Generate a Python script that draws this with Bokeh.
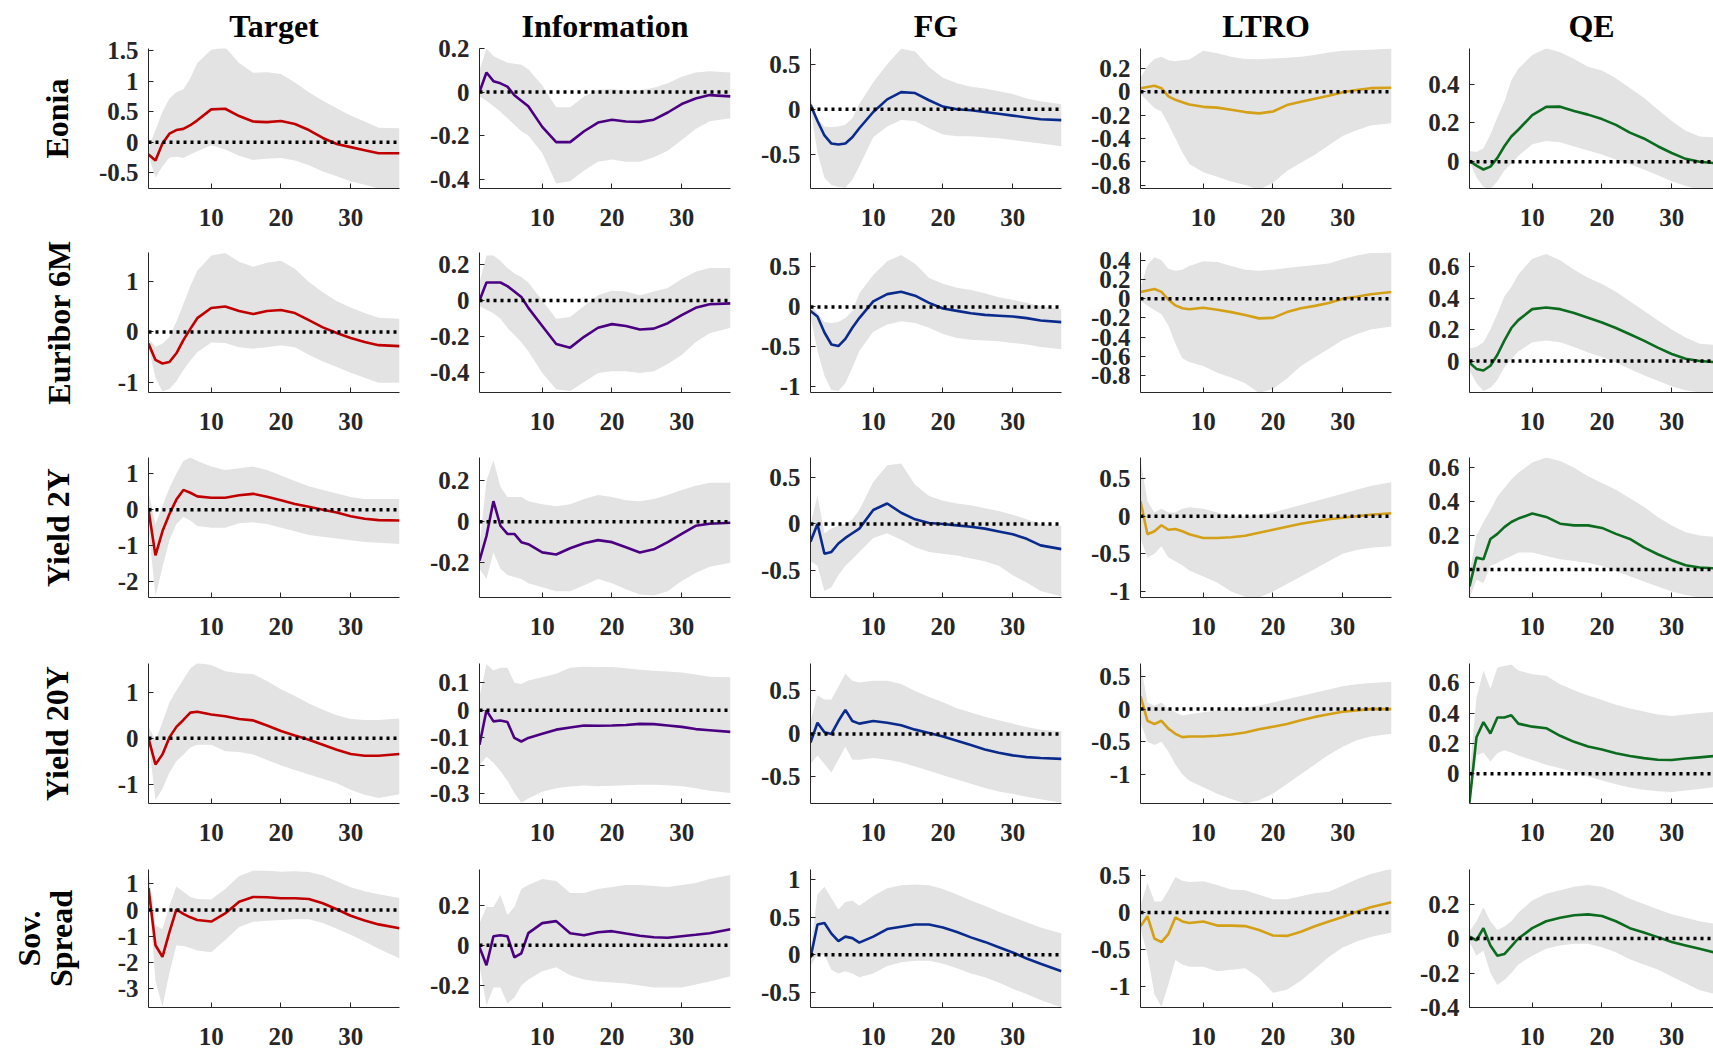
from bokeh.plotting import figure
from bokeh.models import Range1d, FixedTicker, Span
from bokeh.layouts import column, row
from bokeh.embed import file_html
from bokeh.resources import INLINE

# ---------------- data ----------------
H = [1, 2, 3, 4, 5, 6, 7, 8, 10, 12, 14, 16, 18, 20, 22, 24, 26, 28, 30, 32, 34, 37]

shocks = ["Target", "Information", "FG", "LTRO", "QE"]
row_labels = ["Eonia", "Euribor 6M", "Yield 2Y", "Yield 20Y", "Sov.\nSpread"]
xticks = [10, 20, 30]

# Row 1: Eonia
eonia_target_mean = [-0.20, -0.30, -0.02, 0.14, 0.20, 0.22, 0.28, 0.36, 0.54, 0.55, 0.43, 0.34, 0.33, 0.35, 0.30, 0.20, 0.07, -0.03, -0.08, -0.13, -0.18, -0.18]
eonia_target_hi = [-0.10, 0.20, 0.50, 0.72, 0.82, 0.87, 1.05, 1.30, 1.52, 1.56, 1.30, 1.14, 1.15, 1.12, 0.98, 0.82, 0.68, 0.56, 0.44, 0.34, 0.24, 0.23]
eonia_target_lo = [-0.22, -0.58, -0.40, -0.25, -0.24, -0.26, -0.20, -0.15, -0.05, -0.12, -0.22, -0.29, -0.27, -0.26, -0.30, -0.38, -0.48, -0.56, -0.64, -0.70, -0.76, -0.80]
eonia_info_mean = [0.0, 0.09, 0.05, 0.04, 0.025, -0.015, -0.04, -0.065, -0.16, -0.23, -0.23, -0.18, -0.14, -0.127, -0.135, -0.137, -0.127, -0.094, -0.055, -0.03, -0.014, -0.02]
eonia_info_hi = [0.10, 0.20, 0.165, 0.15, 0.135, 0.13, 0.125, 0.105, 0.03, -0.07, -0.07, -0.02, 0.01, 0.013, 0.006, 0.008, 0.02, 0.04, 0.07, 0.09, 0.095, 0.09]
eonia_info_lo = [-0.02, -0.04, -0.065, -0.09, -0.12, -0.15, -0.18, -0.20, -0.28, -0.42, -0.41, -0.36, -0.32, -0.31, -0.32, -0.32, -0.30, -0.27, -0.22, -0.17, -0.134, -0.12]
eonia_fg_mean = [0.05, -0.13, -0.29, -0.38, -0.39, -0.38, -0.31, -0.21, -0.03, 0.11, 0.19, 0.18, 0.10, 0.03, 0.0, -0.01, -0.03, -0.05, -0.07, -0.09, -0.11, -0.12]
eonia_fg_hi = [0.12, -0.10, -0.19, -0.20, -0.19, -0.17, -0.10, 0.06, 0.30, 0.50, 0.67, 0.64, 0.47, 0.35, 0.29, 0.25, 0.23, 0.20, 0.17, 0.12, 0.09, 0.055]
eonia_fg_lo = [0.02, -0.48, -0.76, -0.84, -0.86, -0.87, -0.78, -0.63, -0.31, -0.19, -0.12, -0.13, -0.21, -0.28, -0.30, -0.30, -0.31, -0.32, -0.34, -0.36, -0.38, -0.41]
eonia_ltro_mean = [0.03, 0.04, 0.05, 0.03, -0.04, -0.07, -0.09, -0.11, -0.13, -0.137, -0.155, -0.175, -0.186, -0.17, -0.115, -0.086, -0.06, -0.035, -0.005, 0.015, 0.03, 0.034]
eonia_ltro_hi = [0.12, 0.22, 0.28, 0.30, 0.27, 0.26, 0.27, 0.275, 0.35, 0.33, 0.30, 0.28, 0.277, 0.285, 0.29, 0.30, 0.315, 0.335, 0.35, 0.355, 0.36, 0.37]
eonia_ltro_lo = [-0.02, -0.08, -0.14, -0.17, -0.28, -0.40, -0.52, -0.62, -0.69, -0.73, -0.77, -0.80, -0.84, -0.78, -0.68, -0.61, -0.54, -0.46, -0.38, -0.33, -0.29, -0.27]
eonia_qe_mean = [0.005, -0.02, -0.04, -0.025, 0.02, 0.08, 0.13, 0.165, 0.24, 0.283, 0.284, 0.262, 0.243, 0.22, 0.19, 0.15, 0.12, 0.08, 0.045, 0.015, 0.0, -0.01]
eonia_qe_hi = [0.055, 0.05, 0.07, 0.14, 0.23, 0.31, 0.42, 0.48, 0.55, 0.585, 0.565, 0.53, 0.49, 0.47, 0.43, 0.38, 0.33, 0.27, 0.21, 0.16, 0.13, 0.125]
eonia_qe_lo = [0.0, -0.08, -0.13, -0.14, -0.10, -0.045, -0.01, 0.03, 0.09, 0.107, 0.10, 0.078, 0.058, 0.037, 0.012, -0.012, -0.04, -0.07, -0.10, -0.125, -0.145, -0.16]

# Row 2: Euribor 6M
euribor_target_mean = [-0.23, -0.55, -0.62, -0.59, -0.42, -0.16, 0.06, 0.27, 0.47, 0.50, 0.41, 0.35, 0.41, 0.43, 0.37, 0.23, 0.09, -0.02, -0.12, -0.20, -0.26, -0.28]
euribor_target_hi = [-0.13, -0.29, -0.23, -0.10, 0.20, 0.55, 0.90, 1.20, 1.50, 1.55, 1.38, 1.28, 1.36, 1.40, 1.24, 0.98, 0.78, 0.60, 0.48, 0.37, 0.28, 0.26]
euribor_target_lo = [-0.30, -0.90, -1.17, -1.12, -0.97, -0.75, -0.56, -0.40, -0.21, -0.22, -0.30, -0.33, -0.30, -0.26, -0.30, -0.45, -0.58, -0.69, -0.80, -0.90, -1.00, -1.00]
euribor_info_mean = [0.0, 0.10, 0.10, 0.10, 0.08, 0.05, 0.02, -0.04, -0.14, -0.24, -0.26, -0.20, -0.15, -0.13, -0.14, -0.16, -0.155, -0.125, -0.08, -0.04, -0.02, -0.015]
euribor_info_hi = [0.10, 0.25, 0.25, 0.22, 0.18, 0.15, 0.13, 0.10, 0.0, -0.10, -0.09, -0.03, 0.03, 0.055, 0.05, 0.03, 0.05, 0.07, 0.12, 0.16, 0.18, 0.18]
euribor_info_lo = [-0.03, -0.05, -0.07, -0.10, -0.15, -0.19, -0.23, -0.28, -0.40, -0.49, -0.50, -0.45, -0.40, -0.39, -0.39, -0.40, -0.39, -0.35, -0.30, -0.23, -0.18, -0.15]
euribor_fg_mean = [-0.05, -0.12, -0.32, -0.47, -0.49, -0.40, -0.26, -0.14, 0.07, 0.16, 0.19, 0.14, 0.05, -0.02, -0.05, -0.08, -0.10, -0.11, -0.12, -0.14, -0.17, -0.19]
euribor_fg_hi = [0.05, -0.08, -0.19, -0.20, -0.19, -0.14, -0.05, 0.17, 0.40, 0.57, 0.65, 0.54, 0.36, 0.29, 0.24, 0.21, 0.17, 0.12, 0.09, 0.05, 0.01, -0.03]
euribor_fg_lo = [-0.12, -0.55, -0.86, -1.04, -1.05, -0.95, -0.76, -0.55, -0.31, -0.22, -0.18, -0.20, -0.26, -0.34, -0.39, -0.41, -0.42, -0.43, -0.45, -0.47, -0.50, -0.53]
euribor_ltro_mean = [0.07, 0.085, 0.10, 0.07, -0.01, -0.07, -0.10, -0.11, -0.095, -0.115, -0.14, -0.17, -0.205, -0.20, -0.14, -0.10, -0.075, -0.045, 0.0, 0.02, 0.045, 0.07]
euribor_ltro_hi = [0.12, 0.35, 0.43, 0.40, 0.31, 0.29, 0.30, 0.34, 0.39, 0.38, 0.34, 0.30, 0.29, 0.30, 0.32, 0.335, 0.35, 0.365, 0.41, 0.45, 0.475, 0.48]
euribor_ltro_lo = [-0.02, -0.07, -0.12, -0.16, -0.28, -0.47, -0.62, -0.66, -0.70, -0.77, -0.82, -0.88, -0.98, -0.94, -0.83, -0.70, -0.61, -0.52, -0.43, -0.37, -0.32, -0.29]
euribor_qe_mean = [-0.01, -0.05, -0.06, -0.03, 0.04, 0.13, 0.21, 0.26, 0.33, 0.34, 0.33, 0.305, 0.275, 0.245, 0.21, 0.17, 0.13, 0.085, 0.045, 0.015, 0.0, -0.01]
euribor_qe_hi = [0.08, 0.09, 0.12, 0.20, 0.30, 0.41, 0.47, 0.55, 0.65, 0.68, 0.64, 0.58, 0.53, 0.49, 0.44, 0.38, 0.32, 0.26, 0.20, 0.15, 0.11, 0.10]
euribor_qe_lo = [-0.06, -0.14, -0.19, -0.17, -0.12, -0.04, 0.01, 0.06, 0.12, 0.13, 0.12, 0.09, 0.055, 0.025, -0.01, -0.05, -0.09, -0.125, -0.16, -0.185, -0.20, -0.22]

# Row 3: Yield 2Y
y2_target_mean = [0.0, -1.27, -0.60, -0.12, 0.28, 0.55, 0.47, 0.37, 0.33, 0.33, 0.40, 0.44, 0.36, 0.26, 0.16, 0.08, 0.0, -0.08, -0.18, -0.25, -0.29, -0.30]
y2_target_hi = [0.50, -0.40, 0.10, 0.60, 1.00, 1.35, 1.45, 1.35, 1.20, 1.10, 1.15, 1.20, 1.10, 0.95, 0.80, 0.65, 0.55, 0.45, 0.35, 0.30, 0.30, 0.30]
y2_target_lo = [-0.50, -2.40, -1.60, -0.85, -0.40, -0.20, -0.30, -0.45, -0.50, -0.50, -0.38, -0.35, -0.40, -0.50, -0.60, -0.70, -0.75, -0.80, -0.85, -0.90, -0.92, -0.95]
y2_info_mean = [-0.19, -0.07, 0.10, -0.02, -0.06, -0.06, -0.10, -0.11, -0.15, -0.16, -0.13, -0.105, -0.09, -0.10, -0.125, -0.15, -0.135, -0.10, -0.06, -0.02, -0.01, -0.005]
y2_info_hi = [-0.12, 0.20, 0.30, 0.17, 0.12, 0.12, 0.12, 0.10, 0.085, 0.075, 0.085, 0.11, 0.13, 0.12, 0.105, 0.10, 0.11, 0.13, 0.155, 0.175, 0.19, 0.19]
y2_info_lo = [-0.23, -0.28, -0.15, -0.23, -0.26, -0.27, -0.28, -0.30, -0.32, -0.34, -0.34, -0.31, -0.28, -0.30, -0.33, -0.355, -0.36, -0.34, -0.29, -0.25, -0.22, -0.20]
y2_fg_mean = [-0.19, 0.0, -0.32, -0.30, -0.21, -0.15, -0.10, -0.05, 0.15, 0.22, 0.12, 0.05, 0.01, 0.0, -0.015, -0.03, -0.05, -0.08, -0.11, -0.16, -0.23, -0.27]
y2_fg_hi = [0.0, 0.30, -0.10, -0.05, -0.02, 0.0, 0.05, 0.15, 0.45, 0.63, 0.65, 0.42, 0.30, 0.25, 0.22, 0.20, 0.17, 0.14, 0.10, 0.05, 0.0, -0.02]
y2_fg_lo = [-0.40, -0.45, -0.72, -0.68, -0.55, -0.45, -0.38, -0.30, -0.15, -0.10, -0.17, -0.25, -0.30, -0.32, -0.34, -0.37, -0.40, -0.45, -0.55, -0.63, -0.72, -0.78]
y2_ltro_mean = [0.20, -0.24, -0.20, -0.12, -0.18, -0.17, -0.20, -0.24, -0.29, -0.29, -0.28, -0.26, -0.22, -0.18, -0.14, -0.10, -0.07, -0.04, -0.02, 0.0, 0.02, 0.04]
y2_ltro_hi = [0.75, 0.20, 0.05, 0.10, 0.05, 0.05, 0.10, 0.12, 0.10, 0.05, 0.0, 0.0, 0.02, 0.05, 0.10, 0.15, 0.20, 0.25, 0.30, 0.35, 0.40, 0.45]
y2_ltro_lo = [-0.30, -0.55, -0.50, -0.40, -0.55, -0.60, -0.65, -0.72, -0.80, -0.88, -1.00, -1.07, -1.08, -1.00, -0.90, -0.80, -0.70, -0.60, -0.50, -0.45, -0.42, -0.40]
y2_qe_mean = [-0.10, 0.07, 0.06, 0.18, 0.21, 0.25, 0.28, 0.30, 0.33, 0.31, 0.27, 0.26, 0.26, 0.245, 0.21, 0.18, 0.13, 0.09, 0.055, 0.025, 0.012, 0.005]
y2_qe_hi = [-0.02, 0.20, 0.28, 0.35, 0.43, 0.48, 0.53, 0.57, 0.63, 0.66, 0.64, 0.60, 0.55, 0.51, 0.47, 0.42, 0.37, 0.31, 0.26, 0.22, 0.20, 0.19]
y2_qe_lo = [-0.17, -0.06, -0.08, 0.02, 0.04, 0.06, 0.08, 0.10, 0.10, 0.08, 0.06, 0.05, 0.04, 0.02, -0.01, -0.04, -0.07, -0.10, -0.13, -0.15, -0.165, -0.17]

# Row 4: Yield 20Y
y20_target_mean = [0.0, -0.57, -0.35, 0.02, 0.25, 0.40, 0.56, 0.58, 0.52, 0.48, 0.42, 0.39, 0.28, 0.16, 0.06, -0.03, -0.14, -0.25, -0.34, -0.38, -0.38, -0.34]
y20_target_hi = [0.25, -0.04, 0.35, 0.78, 1.04, 1.28, 1.52, 1.64, 1.60, 1.46, 1.42, 1.40, 1.25, 1.07, 0.92, 0.76, 0.62, 0.50, 0.42, 0.40, 0.40, 0.43]
y20_target_lo = [-0.04, -1.35, -1.10, -0.75, -0.50, -0.36, -0.20, -0.14, -0.14, -0.28, -0.30, -0.35, -0.47, -0.59, -0.69, -0.79, -0.88, -0.98, -1.12, -1.23, -1.30, -1.22]
y20_info_mean = [-0.125, 0.0, -0.04, -0.037, -0.042, -0.10, -0.113, -0.10, -0.085, -0.07, -0.062, -0.055, -0.056, -0.055, -0.053, -0.049, -0.05, -0.055, -0.06, -0.068, -0.072, -0.078]
y20_info_hi = [0.05, 0.168, 0.145, 0.155, 0.155, 0.10, 0.096, 0.108, 0.12, 0.133, 0.155, 0.158, 0.157, 0.157, 0.153, 0.147, 0.144, 0.141, 0.137, 0.13, 0.122, 0.12]
y20_info_lo = [-0.20, -0.168, -0.19, -0.22, -0.255, -0.30, -0.335, -0.32, -0.295, -0.283, -0.276, -0.273, -0.275, -0.274, -0.272, -0.27, -0.27, -0.272, -0.275, -0.283, -0.292, -0.30]
y20_fg_mean = [-0.10, 0.13, 0.02, 0.0, 0.15, 0.28, 0.15, 0.12, 0.15, 0.13, 0.10, 0.05, 0.01, -0.03, -0.08, -0.13, -0.18, -0.22, -0.25, -0.27, -0.28, -0.29]
y20_fg_hi = [0.15, 0.45, 0.40, 0.40, 0.55, 0.70, 0.62, 0.60, 0.62, 0.62, 0.58, 0.50, 0.43, 0.37, 0.30, 0.25, 0.20, 0.16, 0.12, 0.08, 0.05, 0.03]
y20_fg_lo = [-0.35, -0.25, -0.35, -0.45, -0.30, -0.15, -0.30, -0.30, -0.28, -0.30, -0.33, -0.38, -0.43, -0.48, -0.53, -0.58, -0.63, -0.67, -0.70, -0.73, -0.76, -0.80]
y20_ltro_mean = [0.20, -0.18, -0.23, -0.18, -0.30, -0.38, -0.43, -0.42, -0.42, -0.41, -0.39, -0.36, -0.31, -0.27, -0.23, -0.17, -0.12, -0.08, -0.04, -0.02, 0.0, 0.0]
y20_ltro_hi = [0.70, 0.10, 0.05, 0.10, 0.0, -0.05, -0.10, -0.08, -0.05, -0.02, 0.0, 0.02, 0.05, 0.10, 0.15, 0.20, 0.25, 0.30, 0.35, 0.38, 0.40, 0.42]
y20_ltro_lo = [-0.20, -0.50, -0.55, -0.50, -0.65, -0.85, -1.00, -1.10, -1.20, -1.30, -1.38, -1.45, -1.40, -1.30, -1.15, -1.00, -0.85, -0.70, -0.58, -0.48, -0.42, -0.38]
y20_qe_mean = [-0.19, 0.24, 0.34, 0.265, 0.37, 0.37, 0.385, 0.33, 0.31, 0.30, 0.25, 0.21, 0.18, 0.16, 0.135, 0.117, 0.103, 0.092, 0.09, 0.10, 0.108, 0.12]
y20_qe_hi = [0.0, 0.50, 0.68, 0.56, 0.70, 0.71, 0.72, 0.68, 0.656, 0.645, 0.59, 0.55, 0.515, 0.485, 0.455, 0.43, 0.41, 0.39, 0.38, 0.39, 0.40, 0.41]
y20_qe_lo = [-0.196, 0.12, 0.14, 0.08, 0.135, 0.155, 0.14, 0.12, 0.09, 0.06, 0.036, 0.013, -0.018, -0.045, -0.07, -0.09, -0.105, -0.115, -0.12, -0.11, -0.10, -0.083]

# Row 5: Sov. Spread
sov_target_mean = [0.84, -1.35, -1.79, -0.85, 0.02, -0.15, -0.28, -0.38, -0.44, -0.13, 0.32, 0.50, 0.49, 0.45, 0.45, 0.42, 0.26, 0.03, -0.22, -0.40, -0.55, -0.70]
sov_target_hi = [1.55, -0.60, -0.73, 0.15, 0.90, 0.70, 0.50, 0.42, 0.40, 0.80, 1.30, 1.50, 1.50, 1.46, 1.48, 1.45, 1.33, 1.10, 0.87, 0.72, 0.60, 0.46]
sov_target_lo = [0.78, -2.72, -3.70, -2.40, -1.35, -1.38, -1.45, -1.55, -1.62, -1.15, -0.65, -0.45, -0.41, -0.38, -0.35, -0.35, -0.50, -0.72, -0.95, -1.20, -1.48, -1.85]
sov_info_mean = [-0.01, -0.10, 0.045, 0.05, 0.045, -0.06, -0.04, 0.06, 0.11, 0.12, 0.06, 0.05, 0.065, 0.07, 0.058, 0.047, 0.04, 0.037, 0.045, 0.052, 0.06, 0.08]
sov_info_hi = [0.11, 0.19, 0.19, 0.25, 0.15, 0.19, 0.28, 0.30, 0.33, 0.32, 0.26, 0.26, 0.28, 0.29, 0.30, 0.30, 0.295, 0.29, 0.30, 0.31, 0.33, 0.35]
sov_info_lo = [-0.10, -0.30, -0.21, -0.21, -0.29, -0.26, -0.20, -0.17, -0.13, -0.11, -0.15, -0.17, -0.18, -0.185, -0.19, -0.20, -0.21, -0.21, -0.21, -0.195, -0.18, -0.155]
sov_fg_mean = [-0.04, 0.40, 0.42, 0.28, 0.18, 0.24, 0.22, 0.16, 0.24, 0.34, 0.37, 0.40, 0.40, 0.36, 0.30, 0.23, 0.17, 0.10, 0.03, -0.05, -0.12, -0.22]
sov_fg_hi = [0.05, 0.80, 0.90, 0.75, 0.60, 0.70, 0.72, 0.65, 0.78, 0.88, 0.92, 0.93, 0.92, 0.87, 0.80, 0.72, 0.65, 0.57, 0.50, 0.43, 0.36, 0.28]
sov_fg_lo = [-0.15, 0.0, 0.0, -0.20, -0.25, -0.22, -0.25, -0.30, -0.25, -0.15, -0.10, -0.08, -0.08, -0.12, -0.18, -0.25, -0.30, -0.37, -0.45, -0.52, -0.60, -0.70]
sov_ltro_mean = [-0.185, -0.05, -0.35, -0.40, -0.29, -0.066, -0.12, -0.14, -0.12, -0.176, -0.176, -0.183, -0.235, -0.31, -0.315, -0.26, -0.185, -0.12, -0.06, 0.01, 0.07, 0.14]
sov_ltro_hi = [0.09, 0.40, 0.15, 0.15, 0.30, 0.48, 0.43, 0.41, 0.42, 0.37, 0.31, 0.30, 0.24, 0.18, 0.18, 0.22, 0.26, 0.28, 0.36, 0.45, 0.52, 0.59]
sov_ltro_lo = [-0.22, -0.57, -1.10, -1.27, -0.97, -0.64, -0.70, -0.73, -0.73, -0.79, -0.77, -0.75, -0.88, -1.08, -1.04, -0.92, -0.76, -0.60, -0.47, -0.39, -0.33, -0.27]
sov_qe_mean = [0.01, -0.01, 0.06, -0.04, -0.10, -0.09, -0.045, 0.0, 0.06, 0.10, 0.12, 0.135, 0.14, 0.13, 0.10, 0.06, 0.035, 0.008, -0.02, -0.04, -0.06, -0.09]
sov_qe_hi = [0.04, 0.10, 0.18, 0.10, 0.05, 0.07, 0.10, 0.15, 0.22, 0.26, 0.28, 0.30, 0.31, 0.30, 0.27, 0.23, 0.20, 0.17, 0.14, 0.12, 0.10, 0.08]
sov_qe_lo = [-0.02, -0.10, -0.07, -0.20, -0.27, -0.24, -0.20, -0.15, -0.10, -0.06, -0.04, -0.03, -0.03, -0.05, -0.08, -0.12, -0.15, -0.18, -0.22, -0.26, -0.30, -0.33]

# y tick values per row (columns Target, Information, FG, LTRO, QE)
yticks_eonia = [[-0.5, 0, 0.5, 1, 1.5], [-0.4, -0.2, 0, 0.2], [-0.5, 0, 0.5], [-0.8, -0.6, -0.4, -0.2, 0, 0.2], [0, 0.2, 0.4]]
yticks_euribor = [[-1, 0, 1], [-0.4, -0.2, 0, 0.2], [-1, -0.5, 0, 0.5], [-0.8, -0.6, -0.4, -0.2, 0, 0.2, 0.4], [0, 0.2, 0.4, 0.6]]
yticks_y2 = [[-2, -1, 0, 1], [-0.2, 0, 0.2], [-0.5, 0, 0.5], [-1, -0.5, 0, 0.5], [0, 0.2, 0.4, 0.6]]
yticks_y20 = [[-1, 0, 1], [-0.3, -0.2, -0.1, 0, 0.1], [-0.5, 0, 0.5], [-1, -0.5, 0, 0.5], [-0.2, 0, 0.2, 0.4, 0.6]]
yticks_sov = [[-3, -2, -1, 0, 1], [-0.2, 0, 0.2], [-0.5, 0, 0.5, 1], [-1, -0.5, 0, 0.5], [-0.4, -0.2, 0, 0.2]]

# y axis limits per row
ylim_eonia = [(-0.76, 1.54), (-0.443, 0.2), (-0.878, 0.674), (-0.83, 0.37), (-0.138, 0.584)]
ylim_euribor = [(-1.19, 1.56), (-0.508, 0.266), (-1.07, 0.68), (-0.976, 0.48), (-0.2, 0.69)]
ylim_y2 = [(-2.44, 1.45), (-0.37, 0.313), (-0.79, 0.714), (-1.08, 0.78), (-0.165, 0.66)]
ylim_y20 = [(-1.42, 1.63), (-0.338, 0.17), (-0.81, 0.82), (-1.45, 0.7), (-0.196, 0.726)]
ylim_sov = [(-3.73, 1.55), (-0.31, 0.377), (-0.7, 1.13), (-1.28, 0.58), (-0.4, 0.4)]

# ---------------- assembly ----------------
series = [
    [(eonia_target_mean, eonia_target_lo, eonia_target_hi), (eonia_info_mean, eonia_info_lo, eonia_info_hi),
     (eonia_fg_mean, eonia_fg_lo, eonia_fg_hi), (eonia_ltro_mean, eonia_ltro_lo, eonia_ltro_hi),
     (eonia_qe_mean, eonia_qe_lo, eonia_qe_hi)],
    [(euribor_target_mean, euribor_target_lo, euribor_target_hi), (euribor_info_mean, euribor_info_lo, euribor_info_hi),
     (euribor_fg_mean, euribor_fg_lo, euribor_fg_hi), (euribor_ltro_mean, euribor_ltro_lo, euribor_ltro_hi),
     (euribor_qe_mean, euribor_qe_lo, euribor_qe_hi)],
    [(y2_target_mean, y2_target_lo, y2_target_hi), (y2_info_mean, y2_info_lo, y2_info_hi),
     (y2_fg_mean, y2_fg_lo, y2_fg_hi), (y2_ltro_mean, y2_ltro_lo, y2_ltro_hi),
     (y2_qe_mean, y2_qe_lo, y2_qe_hi)],
    [(y20_target_mean, y20_target_lo, y20_target_hi), (y20_info_mean, y20_info_lo, y20_info_hi),
     (y20_fg_mean, y20_fg_lo, y20_fg_hi), (y20_ltro_mean, y20_ltro_lo, y20_ltro_hi),
     (y20_qe_mean, y20_qe_lo, y20_qe_hi)],
    [(sov_target_mean, sov_target_lo, sov_target_hi), (sov_info_mean, sov_info_lo, sov_info_hi),
     (sov_fg_mean, sov_fg_lo, sov_fg_hi), (sov_ltro_mean, sov_ltro_lo, sov_ltro_hi),
     (sov_qe_mean, sov_qe_lo, sov_qe_hi)],
]
yticks = [yticks_eonia, yticks_euribor, yticks_y2, yticks_y20, yticks_sov]
ylims = [ylim_eonia, ylim_euribor, ylim_y2, ylim_y20, ylim_sov]

COLORS = ["#C00000", "#4B0082", "#0B2B8C", "#D4A017", "#0C6B1F"]
BAND = "#E3E3E3"
FONT = "Liberation Serif"
AXC = "#262626"
TICK_PX = 25
LABEL_PX = 32
CHARW = {"-": 0.333, ".": 0.25}

# layout geometry (pixels)
COL_LEFT = [148, 78, 78, 77, 76]
COL_RIGHT = [2, 2, 2, 2, 0]
COL_FW = [251, 251, 251, 251, 244]
ROW_TOP = [48, 16, 17, 18, 18]
ROW_FH = [140, 140, 140, 140, 138]
ROW_BOTTOM = [48, 48, 48, 48, 43]
# page-x of the centre of the (last line of the) row label
LABEL_CENTRE = [60, 62, 61, 60, 64]
LABEL_LINE_HEIGHT = [0.97, 0.97, 0.97, 0.97, 0.88]


def fmt(v):
    return "%g" % v


def label_width(labels):
    return max(sum(CHARW.get(ch, 0.5) for ch in s) for s in labels) * TICK_PX


rows_out = []
for r in range(5):
    figs = []
    for c in range(5):
        left, right, fw = COL_LEFT[c], COL_RIGHT[c], COL_FW[c]
        top, fh, bottom = ROW_TOP[r], ROW_FH[r], ROW_BOTTOM[r]
        xmax = H[0] + (H[-1] - H[0]) * fw / 251.0
        p = figure(width=left + fw + right, height=top + fh + bottom,
                   x_range=Range1d(H[0], xmax), y_range=Range1d(*ylims[r][c]),
                   output_backend="svg", toolbar_location=None,
                   min_border_left=left, min_border_right=right,
                   min_border_top=top, min_border_bottom=bottom)
        p.outline_line_color = None
        p.xgrid.visible = False
        p.ygrid.visible = False
        p.background_fill_color = "white"
        p.border_fill_color = "white"

        mean, lo, hi = series[r][c]
        p.varea(x=H, y1=lo, y2=hi, fill_color=BAND, fill_alpha=1.0)
        p.line(x=H, y=mean, line_color=COLORS[c], line_width=2.6)
        p.add_layout(Span(location=0, dimension="width", line_color="black",
                          line_width=3.5, line_dash="3 4"))

        yt = yticks[r][c]
        p.yaxis.ticker = FixedTicker(ticks=yt)
        p.yaxis.major_label_overrides = {t: fmt(t) for t in yt}
        p.xaxis.ticker = FixedTicker(ticks=xticks)
        for ax in (p.xaxis[0], p.yaxis[0]):
            ax.axis_line_color = AXC
            ax.axis_line_width = 1
            ax.major_tick_in = 5
            ax.major_tick_out = 0
            ax.major_tick_line_color = AXC
            ax.minor_tick_line_color = None
            ax.major_label_text_font = FONT
            ax.major_label_text_font_style = "bold"
            ax.major_label_text_font_size = "%dpx" % TICK_PX
            ax.major_label_text_color = AXC
        p.xaxis.major_label_standoff = 20
        p.yaxis.major_label_standoff = 10

        if r == 0:
            p.title.text = shocks[c]
            p.title.align = "center"
            p.title.text_font = FONT
            p.title.text_font_style = "bold"
            p.title.text_font_size = "%dpx" % LABEL_PX
            p.title.text_color = "black"
            p.title.standoff = 10

        if c == 0:
            w = label_width([fmt(t) for t in yt])
            tick_left = left - 10 - w
            near_edge = LABEL_CENTRE[r] + 0.547 * LABEL_PX
            ax = p.yaxis[0]
            ax.axis_label = row_labels[r]
            ax.axis_label_standoff = int(round(max(0.0, tick_left - near_edge)))
            ax.axis_label_text_font = FONT
            ax.axis_label_text_font_style = "bold"
            ax.axis_label_text_font_size = "%dpx" % LABEL_PX
            ax.axis_label_text_color = "black"
            ax.axis_label_text_line_height = LABEL_LINE_HEIGHT[r]
        figs.append(p)
    rows_out.append(row(*figs))

layout = column(*rows_out)
open("out.html", "w").write(file_html(layout, INLINE))
